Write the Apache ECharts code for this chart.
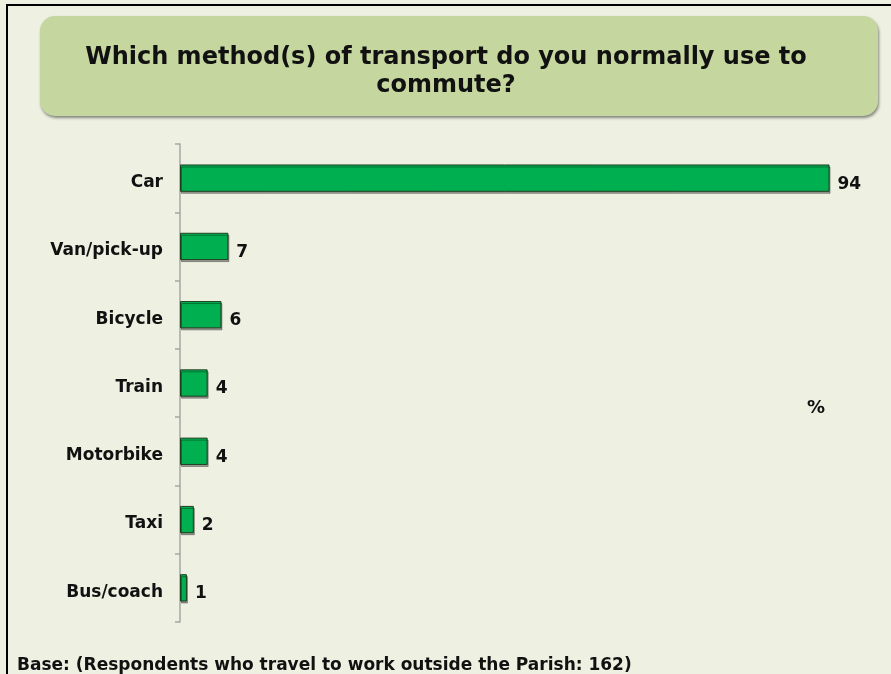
<!DOCTYPE html>
<html>
<head>
<meta charset="utf-8">
<script src="https://cdn.jsdelivr.net/npm/echarts@6/dist/echarts.min.js"></script>
<style>
  html, body { margin: 0; padding: 0; background: #eef1e2; }
  #chart { width: 891px; height: 674px; }
</style>
</head>
<body>
<div id="chart"></div>
<script>
// transport used for commuting, % of respondents
var categories = ['Car', 'Van/pick-up', 'Bicycle', 'Train', 'Motorbike', 'Taxi', 'Bus/coach'];
var values = [94, 7, 6, 4, 4, 2, 1];

var titleText = 'Which method(s) of transport do you normally use to\ncommute?';
var baseText = 'Base: (Respondents who travel to work outside the Parish: 162)';

var font = 'DejaVu Sans, Verdana, sans-serif';
var chart = echarts.init(document.getElementById('chart'));

var option = {
    backgroundColor: '#eef1e2',
    animation: false,
    grid: { left: 180, right: 20, top: 144, bottom: 52 },
    xAxis: {
        type: 'value',
        min: 0,
        max: 100,
        show: false
    },
    yAxis: {
        type: 'category',
        data: categories,
        inverse: true,
        axisLine: { lineStyle: { color: '#a6a6a6', width: 1.5 } },
        axisTick: { show: true, length: 5, lineStyle: { color: '#a6a6a6', width: 1.5 } },
        axisLabel: {
            margin: 17,
            formatter: '{c|{value}}',
            rich: {
                c: {
                    color: '#111',
                    fontFamily: font,
                    fontWeight: 'bold',
                    fontSize: 17,
                    padding: [9, 0, 0, 0]
                }
            }
        }
    },
    series: [{
        type: 'bar',
        data: values,
        barWidth: '40%',
        itemStyle: {
            color: '#00b050',
            borderColor: '#1f3d1f',
            borderWidth: 1,
            shadowColor: 'rgba(0,0,0,0.35)',
            shadowOffsetX: 1,
            shadowOffsetY: 2
        },
        label: {
            show: true,
            position: 'right',
            distance: 8,
            color: '#111',
            fontFamily: font,
            fontWeight: 'bold',
            fontSize: 17,
            offset: [0, 6]
        }
    }],
    graphic: [
        {
            type: 'rect',
            shape: { x: 7, y: 5, width: 900, height: 700 },
            style: { fill: 'none', stroke: '#000', lineWidth: 2 },
            z: 100
        },
        {
            type: 'rect',
            shape: { x: 40, y: 16, width: 838, height: 100, r: 15 },
            style: {
                fill: '#c5d69e',
                shadowColor: 'rgba(0,0,0,0.45)',
                shadowBlur: 3,
                shadowOffsetX: 1,
                shadowOffsetY: 2
            },
            z: 1
        },
        {
            type: 'text',
            x: 446, y: 72,
            style: {
                text: titleText,
                textAlign: 'center',
                textVerticalAlign: 'middle',
                fill: '#111',
                font: 'bold 24px ' + font,
                lineHeight: 28
            },
            z: 2
        },
        {
            type: 'text',
            x: 807, y: 408,
            style: { text: '%', fill: '#111', font: 'bold 18px ' + font, textVerticalAlign: 'middle' },
            z: 2
        },
        {
            type: 'text',
            x: 17, y: 666,
            style: { text: baseText, fill: '#111', font: 'bold 17px ' + font, textVerticalAlign: 'middle' },
            z: 2
        }
    ]
};

chart.setOption(option);
</script>
</body>
</html>
